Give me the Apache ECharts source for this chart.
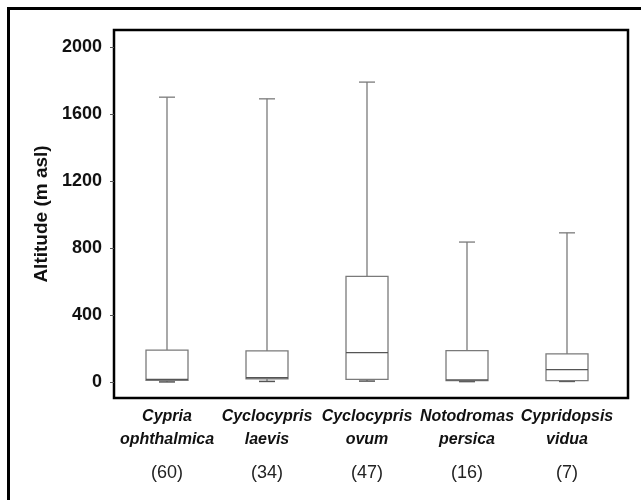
<!DOCTYPE html>
<html>
<head>
<meta charset="utf-8">
<script src="https://cdn.jsdelivr.net/npm/echarts@6/dist/echarts.min.js"></script>
<style>html,body{margin:0;padding:0;background:#fff;}#c{width:641px;height:500px;}</style>
</head>
<body>
<div id="c"></div>
<script>
// ---- data ----
const catLine1 = ['Cypria', 'Cyclocypris', 'Cyclocypris', 'Notodromas', 'Cypridopsis'];
const catLine2 = ['ophthalmica', 'laevis', 'ovum', 'persica', 'vidua'];
const counts = ['(60)', '(34)', '(47)', '(16)', '(7)'];
const positions = [1, 2, 3, 4, 5];
const mins = [0, 3, 5, 2, 3];
const q1s = [10, 18, 15, 8, 8];
const medians = [15, 25, 175, 12, 73];
const q3s = [190, 185, 630, 187, 167];
const maxs = [1700, 1690, 1790, 835, 890];
const yTicks = [0, 400, 800, 1200, 1600, 2000];

const FONT = '"Liberation Sans", Arial, sans-serif';
const boxData = positions.map((p, i) => [p, mins[i], q1s[i], medians[i], q3s[i], maxs[i]]);

const chart = echarts.init(document.getElementById('c'), null, {renderer: 'canvas'});
chart.setOption({
  backgroundColor: '#fff',
  animation: false,
  graphic: [{
    type: 'rect', left: 6, top: 6, z: 100, silent: true,
    shape: {x: 0, y: 0, width: 660, height: 520},
    style: {fill: 'none', stroke: '#000', lineWidth: 3}
  }],
  grid: {left: 114, top: 30, right: 13, bottom: 102, show: true, borderColor: '#000', borderWidth: 2.5, backgroundColor: 'transparent'},
  xAxis: {
    type: 'value', min: 0.47, max: 5.61,
    splitLine: {show: false},
    axisLine: {show: false},
    axisTick: {show: false},
    axisLabel: {
      customValues: positions,
      margin: 7,
      formatter: function (v) {
        const i = Math.round(v) - 1;
        return '{a|' + catLine1[i] + '}\n{a|' + catLine2[i] + '}\n{b|' + counts[i] + '}';
      },
      rich: {
        a: {fontFamily: FONT, fontSize: 16, fontWeight: 'bold', fontStyle: 'italic', color: '#111', lineHeight: 23, align: 'center'},
        b: {fontFamily: FONT, fontSize: 18, color: '#222', lineHeight: 44, align: 'center'}
      }
    }
  },
  yAxis: {
    type: 'value', min: -96, max: 2101,
    name: 'Altitude (m asl)',
    nameLocation: 'middle', nameRotate: 90, nameGap: 53,
    nameTextStyle: {fontFamily: FONT, fontSize: 19, fontWeight: 'bold', color: '#111'},
    splitLine: {show: false},
    axisLine: {show: false},
    axisTick: {show: true, customValues: yTicks, length: 4, lineStyle: {color: '#555', width: 1}},
    axisLabel: {customValues: yTicks, margin: 12, fontFamily: FONT, fontSize: 18, fontWeight: 'bold', color: '#111',
      formatter: function (v) { return String(v); }}
  },
  series: [{
    type: 'custom',
    data: boxData,
    renderItem: function (params, api) {
      const x = api.value(0);
      const hw = api.size([0.42, 0])[0] / 2;
      const cw = api.size([0.16, 0])[0] / 2;
      const pMin = api.coord([x, api.value(1)]);
      const pQ1 = api.coord([x, api.value(2)]);
      const pMed = api.coord([x, api.value(3)]);
      const pQ3 = api.coord([x, api.value(4)]);
      const pMax = api.coord([x, api.value(5)]);
      const cx = pQ1[0];
      const st = {stroke: '#7a7a7a', lineWidth: 1.3, fill: 'none'};
      return {
        type: 'group',
        children: [
          {type: 'line', shape: {x1: cx, y1: pQ3[1], x2: cx, y2: pMax[1]}, style: st},
          {type: 'line', shape: {x1: cx - cw, y1: pMax[1], x2: cx + cw, y2: pMax[1]}, style: st},
          {type: 'line', shape: {x1: cx, y1: pQ1[1], x2: cx, y2: pMin[1]}, style: st},
          {type: 'line', shape: {x1: cx - cw, y1: pMin[1], x2: cx + cw, y2: pMin[1]}, style: {stroke: '#555', lineWidth: 1.5}},
          {type: 'rect', shape: {x: cx - hw, y: pQ3[1], width: hw * 2, height: pQ1[1] - pQ3[1]}, style: {stroke: '#7a7a7a', lineWidth: 1.3, fill: '#fff'}},
          {type: 'line', shape: {x1: cx - hw, y1: pMed[1], x2: cx + hw, y2: pMed[1]}, style: {stroke: '#555', lineWidth: 1.3}}
        ]
      };
    }
  }]
});
</script>
</body>
</html>
